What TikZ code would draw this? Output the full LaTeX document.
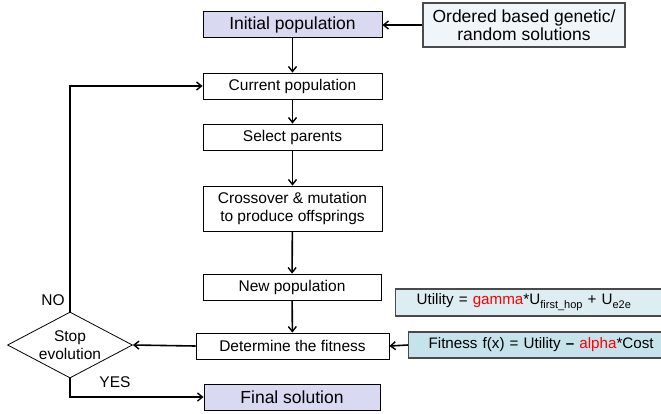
\documentclass[tikz,border=0pt]{standalone}
\usepackage{fontspec}
\setmainfont{Liberation Sans}
\usetikzlibrary{arrows.meta,shapes.geometric}

\definecolor{lavender}{HTML}{D9D9F2}
\definecolor{paleblue}{HTML}{F0F5F9}
\definecolor{utilblue}{HTML}{DDEEF3}
\definecolor{fitblue}{HTML}{C6E3EC}
\definecolor{edgegray}{HTML}{4A4A4A}

\tikzset{
  box/.style={draw=black, line width=0.8bp, fill=white, minimum height=26bp,
    inner sep=0pt, align=center, font=\fontsize{15.5bp}{18.5bp}\selectfont},
  termbox/.style={box, fill=lavender, font=\fontsize{17.5bp}{20bp}\selectfont},
  notebox/.style={draw=edgegray, line width=1.2bp, inner sep=0pt, align=center,
    font=\fontsize{15.5bp}{18.5bp}\selectfont},
  formula/.style={notebox, anchor=west, minimum width=280bp, text width=270bp,
    align=left, font=\fontsize{15.2bp}{18bp}\selectfont},
  decision/.style={diamond, draw=black, line width=0.8bp, fill=white, aspect=1.9,
    inner sep=0pt, align=center, font=\fontsize{15.5bp}{17.5bp}\selectfont},
  flow/.style={line width=1.6bp, -{Straight Barb[length=5bp,width=8bp,line width=1.4bp]}},
  tag/.style={font=\fontsize{15.5bp}{18bp}\selectfont}
}
\newcommand{\hl}[1]{\textcolor{red}{#1}}
\newcommand{\lowsub}[1]{\raisebox{-4bp}{\fontsize{11bp}{12bp}\selectfont #1}}

\begin{document}
\begin{tikzpicture}[x=1bp,y=-1bp]
  \clip (0,0) rectangle (661,413);
  \fill[white] (0,0) rectangle (661,413);

  % main flow column
  \node[termbox, minimum width=179bp] (init) at (292.5,24.5) {Initial population};
  \node[notebox, fill=paleblue, minimum width=202bp, minimum height=44bp]
    (seed) at (524,25) {\fontsize{17.5bp}{20bp}\selectfont Ordered based genetic/\\
    \fontsize{17.5bp}{20bp}\selectfont random solutions};
  \node[box, minimum width=179bp] (cur) at (292.5,86) {Current population};
  \node[box, minimum width=179bp] (sel) at (292.5,137) {Select parents};
  \node[box, minimum width=179bp, minimum height=45bp] (cross) at (292.5,208.5)
    {Crossover \& mutation\\to produce offsprings};
  \node[box, minimum width=178bp] (new) at (292,287) {New population};
  \node[box, minimum width=193bp] (fit) at (292.5,346) {Determine the fitness};
  \node[termbox, minimum width=176bp] (final) at (292,397) {Final solution};

  % termination test
  \node[decision, minimum width=125bp, minimum height=66bp] (stop) at (70,345)
    {Stop\\evolution};

  % formula boxes (run past the right edge)
  \node[formula, fill=utilblue, minimum height=27bp] (util) at (395,302.5)
    {\hspace{16bp}Utility = \hl{gamma}*U\lowsub{first\_hop} + U\lowsub{e2e}};
  \node[formula, fill=fitblue, minimum height=26bp] (fitf) at (408,345)
    {\hspace{15bp}Fitness f(x) = Utility \textbf{–} \hl{alpha}*Cost};

  % connectors
  \draw[flow] (seed.west) -- (init.east |- seed.west);
  \draw[flow] (init) -- (cur);
  \draw[flow] (cur) -- (sel);
  \draw[flow] (sel) -- (cross);
  \draw[flow] (cross) -- (new);
  \draw[flow] (new) -- (fit);
  \draw[flow] (fitf.west) -- (fit.east);
  \draw[flow] (fit.west) -- (stop.east);
  \draw[flow] (stop.north) |- (cur.west);
  \draw[flow] (stop.south) |- (final.west);

  \node[tag] (no) at (53,300) {NO};
  \node[tag] (yes) at (115,382) {YES};
\end{tikzpicture}
\end{document}
